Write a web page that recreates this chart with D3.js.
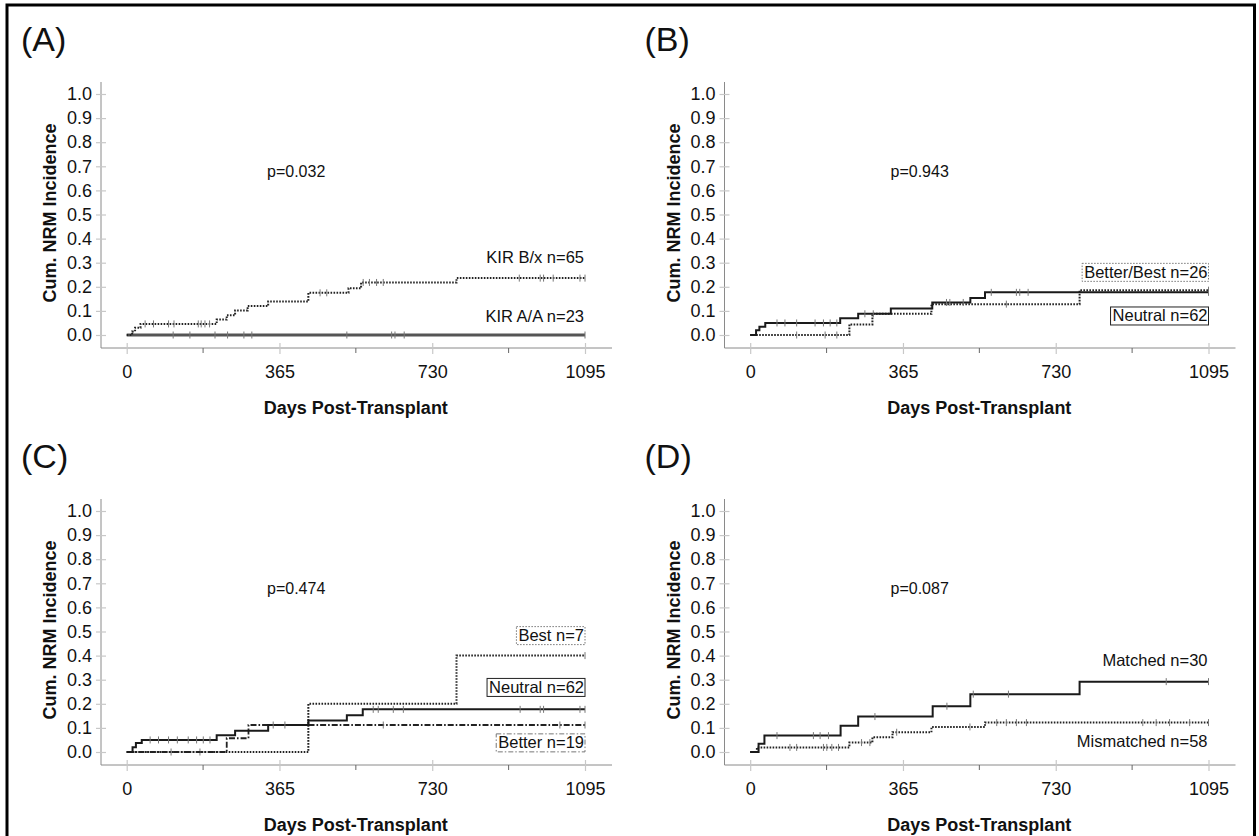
<!DOCTYPE html>
<html>
<head>
<meta charset="utf-8">
<script src="https://cdn.jsdelivr.net/npm/d3@7"></script>
<style>
  html, body { margin: 0; padding: 0; background: #fff; }
  svg { display: block; }
  text { font-family: "Liberation Sans", Arial, sans-serif; fill: #111; }
</style>
</head>
<body>
<svg id="chart" width="1259" height="836"></svg>
<script>
// ---------------- data ----------------
const xTickValues = [0, 365, 730, 1095];
const xMinorTicks = [182.5, 547.5, 912.5];
const yTickValues = [0, 0.1, 0.2, 0.3, 0.4, 0.5, 0.6, 0.7, 0.8, 0.9, 1.0];
const panelLetters = ["(A)", "(B)", "(C)", "(D)"];
const pValues = ["p=0.032", "p=0.943", "p=0.474", "p=0.087"];

// Panel A
const aBxTimes  = [0, 13, 20, 33, 215, 239, 259, 289, 338, 434, 530, 560, 788];
const aBxValues = [0, 0.015, 0.030, 0.046, 0.064, 0.082, 0.102, 0.120, 0.139, 0.175, 0.194, 0.218, 0.236];
const aBxCensor = [44, 64, 100, 113, 171, 178, 187, 198, 462, 478, 565, 580, 597, 613, 938, 988, 996, 1019, 1083, 1095];
const aAATimes  = [0];
const aAAValues = [0];
const aAACensor = [111, 151, 211, 241, 280, 299, 526, 633, 641, 663, 1095];

// Panel B
const bNeuTimes  = [0, 14, 22, 36, 215, 258, 336, 435, 526, 561];
const bNeuValues = [0, 0.020, 0.034, 0.050, 0.069, 0.088, 0.110, 0.135, 0.154, 0.177];
const bNeuCensor = [64, 83, 111, 155, 175, 191, 207, 274, 294, 469, 477, 509, 576, 636, 644, 664, 1095];
const bBBTimes   = [0, 237, 292, 433, 787];
const bBBValues  = [0, 0.044, 0.088, 0.128, 0.186];
const bBBCensor  = [111, 179, 207, 612, 1095];

// Panel C
const cNeuTimes  = [0, 14, 22, 36, 215, 259, 338, 434, 526, 564];
const cNeuValues = [0, 0.020, 0.037, 0.050, 0.070, 0.088, 0.112, 0.131, 0.153, 0.177];
const cNeuCensor = [56, 76, 100, 121, 147, 167, 183, 199, 350, 378, 589, 601, 637, 661, 940, 988, 996, 1083, 1095];
const cBestTimes  = [0, 434, 788];
const cBestValues = [0, 0.200, 0.400];
const cBestCensor = [1095];
const cBetTimes  = [0, 239, 291];
const cBetValues = [0, 0.057, 0.112];
const cBetCensor = [106, 175, 613, 1035, 1095];

// Panel D
const dMatTimes  = [0, 20, 34, 216, 258, 436, 526, 787];
const dMatValues = [0, 0.034, 0.068, 0.109, 0.147, 0.190, 0.240, 0.292];
const dMatCensor = [64, 151, 167, 187, 298, 470, 533, 617, 994, 1095];
const dMisTimes  = [0, 16, 237, 292, 340, 433, 561];
const dMisValues = [0, 0.019, 0.039, 0.061, 0.082, 0.104, 0.122];
const dMisCensor = [95, 111, 175, 183, 195, 211, 266, 286, 350, 525, 589, 612, 636, 660, 938, 970, 1002, 1050, 1095];

// ---------------- layout ----------------
const svg = d3.select("#chart");
const DX = 623.5, DY = 417;
const DAYS_MAX = 1095;

const styles = {
  solid:   { stroke: "#1a1a1a", width: 2, dash: null },
  thick:   { stroke: "#555", width: 3.2, dash: null },
  dotted:  { stroke: "#222", width: 2, dash: "1.6,1.4" },
  dashdot: { stroke: "#222", width: 1.8, dash: "6,2,1.6,2" }
};

const panels = [
  { letter: panelLetters[0], p: pValues[0], col: 0, row: 0,
    series: [
      { t: aAATimes, v: aAAValues, c: aAACensor, style: "thick" },
      { t: aBxTimes, v: aBxValues, c: aBxCensor, style: "dotted" }
    ],
    labels: [
      { text: "KIR B/x n=65", y: 0.324, box: null },
      { text: "KIR A/A n=23", y: 0.079, box: null }
    ]
  },
  { letter: panelLetters[1], p: pValues[1], col: 1, row: 0,
    series: [
      { t: bBBTimes, v: bBBValues, c: bBBCensor, style: "dotted" },
      { t: bNeuTimes, v: bNeuValues, c: bNeuCensor, style: "solid" }
    ],
    labels: [
      { text: "Better/Best n=26", y: 0.262, box: "dotted" },
      { text: "Neutral n=62", y: 0.081, box: "solid" }
    ]
  },
  { letter: panelLetters[2], p: pValues[2], col: 0, row: 1,
    series: [
      { t: cBetTimes, v: cBetValues, c: cBetCensor, style: "dashdot" },
      { t: cBestTimes, v: cBestValues, c: cBestCensor, style: "dotted" },
      { t: cNeuTimes, v: cNeuValues, c: cNeuCensor, style: "solid" }
    ],
    labels: [
      { text: "Best n=7", y: 0.485, box: "dotted" },
      { text: "Neutral n=62", y: 0.27, box: "solid" },
      { text: "Better n=19", y: 0.04, box: "dashdot" }
    ]
  },
  { letter: panelLetters[3], p: pValues[3], col: 1, row: 1,
    series: [
      { t: dMisTimes, v: dMisValues, c: dMisCensor, style: "dotted" },
      { t: dMatTimes, v: dMatValues, c: dMatCensor, style: "solid" }
    ],
    labels: [
      { text: "Matched n=30", y: 0.38, box: null },
      { text: "Mismatched n=58", y: 0.045, box: null }
    ]
  }
];

// outer border
svg.append("rect")
  .attr("x", 7).attr("y", 5).attr("width", 1247.5).attr("height", 900)
  .attr("fill", "none").attr("stroke", "#000").attr("stroke-width", 3);

function valueAt(times, values, t) {
  let v = values[0];
  for (let i = 0; i < times.length; i++) if (times[i] <= t) v = values[i];
  return v;
}

panels.forEach(P => {
  const ox = P.col * DX, oy = P.row * DY;
  const g = svg.append("g");
  const x = d3.scaleLinear().domain([0, DAYS_MAX]).range([126.7 + ox, 585 + ox]);
  const y = d3.scaleLinear().domain([0, 1]).range([335 + oy, 94 + oy]);
  const axisX = 101 + ox, axisY = 348 + oy;

  // panel letter
  g.append("text").attr("x", 21 + ox).attr("y", 51 + oy)
    .attr("font-size", 34).text(P.letter);

  // y axis line
  g.append("line").attr("x1", axisX).attr("x2", axisX)
    .attr("y1", 82 + oy).attr("y2", axisY)
    .attr("stroke", "#8a8a8a").attr("stroke-width", 1);
  // x axis line
  g.append("line").attr("x1", axisX).attr("x2", 612 + ox)
    .attr("y1", axisY).attr("y2", axisY)
    .attr("stroke", "#8a8a8a").attr("stroke-width", 1);

  // y ticks
  const yAxis = d3.axisLeft(y).tickValues(yTickValues).tickFormat(d3.format(".1f"))
    .tickSize(0).tickPadding(9);
  const ya = g.append("g").attr("transform", `translate(${axisX},0)`).call(yAxis);
  ya.select(".domain").remove();
  ya.selectAll("text").attr("font-size", 18).attr("fill", "#222")
    .attr("font-family", '"Liberation Sans", Arial, sans-serif');
  ya.selectAll(".tick").append("line")
    .attr("x1", -5).attr("x2", 5).attr("stroke", "#c8c8c8").attr("stroke-width", 1.2);

  // x ticks
  const xAxis = d3.axisBottom(x).tickValues(xTickValues).tickFormat(d3.format("d"))
    .tickSize(0).tickPadding(17);
  const xa = g.append("g").attr("transform", `translate(0,${axisY})`).call(xAxis);
  xa.select(".domain").remove();
  xa.selectAll("text").attr("font-size", 18).attr("fill", "#222")
    .attr("font-family", '"Liberation Sans", Arial, sans-serif');
  xa.selectAll(".tick").append("line")
    .attr("y1", -5).attr("y2", 6).attr("stroke", "#c8c8c8").attr("stroke-width", 1.2);
  g.selectAll(".minor").data(xMinorTicks).enter().append("line")
    .attr("x1", d => x(d)).attr("x2", d => x(d))
    .attr("y1", axisY).attr("y2", axisY + 5)
    .attr("stroke", "#666").attr("stroke-width", 1);

  // axis titles
  g.append("text").attr("x", (x(0) + x(DAYS_MAX)) / 2).attr("y", 413.5 + oy)
    .attr("text-anchor", "middle").attr("font-size", 18).attr("font-weight", "bold")
    .text("Days Post-Transplant");
  g.append("text")
    .attr("transform", `translate(${56 + ox},${213 + oy}) rotate(-90)`)
    .attr("text-anchor", "middle").attr("font-size", 18).attr("font-weight", "bold")
    .text("Cum. NRM Incidence");

  // p-value
  g.append("text").attr("x", 267 + ox).attr("y", 176.5 + oy)
    .attr("font-size", 16).text(P.p);

  // curves
  const line = d3.line().curve(d3.curveStepAfter).x(d => x(d[0])).y(d => y(d[1]));
  P.series.forEach(s => {
    const pts = s.t.map((t, i) => [t, s.v[i]]);
    pts.push([DAYS_MAX, s.v[s.v.length - 1]]);
    const st = styles[s.style];
    g.append("path").attr("d", line(pts))
      .attr("fill", "none").attr("stroke", st.stroke)
      .attr("stroke-width", st.width)
      .attr("stroke-dasharray", st.dash);
    g.selectAll(null).data(s.c).enter().append("line")
      .attr("x1", d => x(d)).attr("x2", d => x(d))
      .attr("y1", d => y(valueAt(s.t, s.v, d)) - 3.5)
      .attr("y2", d => y(valueAt(s.t, s.v, d)) + 3.5)
      .attr("stroke", "#777").attr("stroke-width", 1);
  });

  // labels
  P.labels.forEach(L => {
    const t = g.append("text")
      .attr("x", x(DAYS_MAX) - 1).attr("y", y(L.y) + 6)
      .attr("text-anchor", "end").attr("font-size", 16.5).text(L.text);
    if (L.box) {
      const bb = t.node().getBBox();
      const bs = L.box === "solid" ? { c: "#222", d: null, w: 1 }
        : L.box === "dotted" ? { c: "#777", d: "1.5,1.5", w: 1 }
        : { c: "#777", d: "5,2,1.5,2", w: 1 };
      g.append("rect")
        .attr("x", bb.x - 2).attr("y", bb.y + 0.5)
        .attr("width", bb.width + 3).attr("height", bb.height)
        .attr("fill", "none").attr("stroke", bs.c).attr("stroke-width", bs.w)
        .attr("stroke-dasharray", bs.d);
    }
  });
});
</script>
</body>
</html>
